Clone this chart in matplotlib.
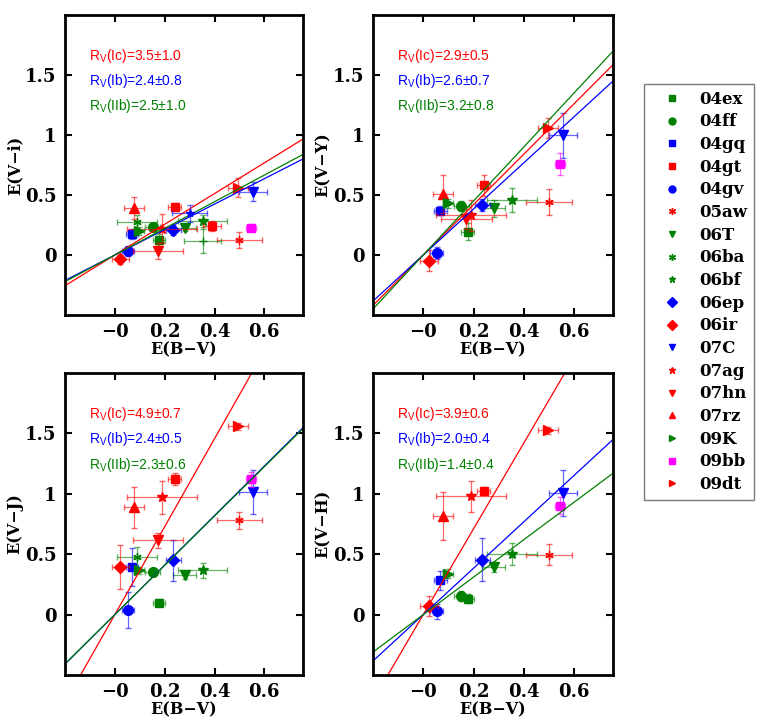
import numpy as np
import matplotlib
matplotlib.use("Agg")
import matplotlib.pyplot as plt
from matplotlib.lines import Line2D
from matplotlib.ticker import FixedLocator, FixedFormatter

# supernova names, plot colours and symbols
sn_names = ['04ex', '04ff', '04gq', '04gt', '04gv', '05aw', '06T', '06ba', '06bf',
            '06ep', '06ir', '07C', '07ag', '07hn', '07rz', '09K', '09bb', '09dt']
sn_colors = ['green', 'green', 'blue', 'red', 'blue', 'red', 'green', 'green', 'green',
             'blue', 'red', 'blue', 'red', 'red', 'red', 'green', 'magenta', 'red']
sn_markers = ['s', 'o', 's', 's', 'o', (6, 2, 0), 'v', (6, 2, 0), '*',
              'D', 'D', 'v', '*', 'v', '^', '>', 's', '>']

# E(B-V) and errors
ebv = [0.177, 0.152, 0.068, 0.240, 0.053, 0.500, 0.280, 0.088, 0.352,
       0.235, 0.022, 0.555, 0.190, 0.172, 0.078, 0.098, 0.545, 0.495]
ebv_err = [0.025, 0.03, 0.025, 0.025, 0.025, 0.09, 0.045, 0.08, 0.10,
           0.03, 0.035, 0.055, 0.14, 0.10, 0.04, 0.02, 0.02, 0.04]

nan = np.nan
# E(V-i)
evi = [0.125, 0.235, 0.175, 0.400, 0.035, 0.125, 0.228, 0.277, 0.285,
       0.210, -0.036, 0.526, 0.220, 0.033, 0.390, 0.200, 0.228, 0.562]
evi_err = [0.05, 0.03, 0.04, 0.03, 0.04, 0.07, 0.03, 0.06, 0.05,
           0.04, 0.04, 0.08, 0.12, 0.07, 0.09, 0.03, 0.03, 0.08]
# E(V-Y)
evy = [0.194, 0.410, 0.370, 0.580, 0.014, 0.443, 0.388, nan, 0.457,
       0.415, -0.047, 0.997, 0.330, 0.300, 0.507, 0.430, 0.760, 1.058]
evy_err = [0.07, 0.04, 0.04, 0.09, 0.05, 0.11, 0.07, nan, 0.10,
           0.05, 0.09, 0.19, 0.13, 0.08, 0.16, 0.04, 0.09, 0.08]
# E(V-J)
evj = [0.100, 0.353, 0.395, 1.120, 0.036, 0.780, 0.326, 0.477, 0.367,
       0.450, 0.395, 1.016, 0.970, 0.615, 0.890, 0.367, 1.120, 1.560]
evj_err = [0.03, 0.03, 0.16, 0.05, 0.15, 0.07, 0.03, 0.08, 0.06,
           0.17, 0.18, 0.18, 0.14, 0.06, 0.17, 0.03, 0.06, 0.03]
# E(V-H)
evh = [0.133, 0.154, 0.284, 1.025, 0.027, 0.497, 0.395, nan, 0.500,
       0.455, 0.071, 1.010, 0.980, nan, 0.817, 0.340, 0.900, 1.527]
evh_err = [0.04, 0.04, 0.08, 0.03, 0.06, 0.09, 0.04, nan, 0.09,
           0.18, 0.08, 0.19, 0.13, nan, 0.20, 0.04, 0.07, 0.03]

# extra unlabelled points in the E(V-i) panel
extra_x = [0.300, 0.390, 0.352]
extra_xerr = [0.07, 0.035, 0.075]
extra_y = [0.346, 0.244, 0.116]
extra_yerr = [0.07, 0.04, 0.10]
extra_colors = ['blue', 'red', 'green']
extra_markers = ['*', 's', '+']

# fitted slopes (Ic, Ib, IIb) and R_V labels
fit_groups = ['Ic', 'Ib', 'IIb']
fit_colors = ['red', 'blue', 'green']
slopes = {'i': [1.28, 1.06, 1.11], 'Y': [2.10, 1.92, 2.25],
          'J': [3.64, 2.05, 2.04], 'H': [3.55, 1.92, 1.55]}
rv_text = {'i': ['3.5±1.0', '2.4±0.8', '2.5±1.0'], 'Y': ['2.9±0.5', '2.6±0.7', '3.2±0.8'],
           'J': ['4.9±0.7', '2.4±0.5', '2.3±0.6'], 'H': ['3.9±0.6', '2.0±0.4', '1.4±0.4']}

xticks = [0.0, 0.2, 0.4, 0.6]
xtick_labels = ['\u22120', '0.2', '0.4', '0.6']
yticks = [0.0, 0.5, 1.0, 1.5]
ytick_labels = ['0', '0.5', '1', '1.5']

plt.rcParams['mathtext.fontset'] = 'custom'
plt.rcParams['mathtext.rm'] = 'Liberation Sans'
tick_font = {'family': 'DejaVu Serif', 'weight': 'bold', 'size': 13}
label_font = {'family': 'DejaVu Serif', 'weight': 'bold', 'size': 11.5}
legend_font = {'family': 'DejaVu Serif', 'weight': 'bold', 'size': 12}


def draw_panel(ax, band, yvals, yerrs):
    for i in range(len(sn_names)):
        if np.isnan(yvals[i]):
            continue
        ax.errorbar(ebv[i], yvals[i], xerr=ebv_err[i], yerr=yerrs[i], fmt='none',
                    ecolor=sn_colors[i], elinewidth=0.9, capsize=2, alpha=0.6)
        ms = 7 if sn_markers[i] in ('o', 'v', '^', '>', '*') else 6
        ax.plot(ebv[i], yvals[i], linestyle='none', marker=sn_markers[i],
                color=sn_colors[i], markersize=ms, markeredgewidth=1)
    for k, c in zip(slopes[band], fit_colors):
        ax.axline((0, 0), slope=k, color=c, lw=0.9)
    for j, (g, c) in enumerate(zip(fit_groups, fit_colors)):
        ax.text(-0.105, 1.66 - 0.21 * j, r'R$_\mathrm{V}$(' + g + ')=' + rv_text[band][j],
                color=c, fontsize=10, family='Liberation Sans', ha='left', va='center')
    ax.set_xlim(-0.2, 0.755)
    ax.set_ylim(-0.5, 2.0)
    ax.xaxis.set_major_locator(FixedLocator(xticks))
    ax.xaxis.set_major_formatter(FixedFormatter(xtick_labels))
    ax.yaxis.set_major_locator(FixedLocator(yticks))
    ax.yaxis.set_major_formatter(FixedFormatter(ytick_labels))
    ax.tick_params(direction='in', top=True, right=True, length=5, width=1.5, pad=6)
    for lab in ax.get_xticklabels() + ax.get_yticklabels():
        lab.set_fontproperties(tick_font)
    for s in ax.spines.values():
        s.set_linewidth(2)
    ax.set_xlabel('E(B\u2212V)', fontdict=label_font, labelpad=0)
    ax.set_ylabel('E(V\u2212' + band + ')', fontdict=label_font, labelpad=1)


def main():
    fig = plt.figure(figsize=(7.63, 7.23), dpi=100)
    W, H = 763.0, 723.0
    boxes = [(65, 15, 303, 315), (373, 15, 613, 315), (65, 373, 303, 675), (373, 373, 613, 675)]
    panels = [('i', evi, evi_err), ('Y', evy, evy_err), ('J', evj, evj_err), ('H', evh, evh_err)]
    for (x0, y0, x1, y1), (band, yv, ye) in zip(boxes, panels):
        ax = fig.add_axes([x0 / W, 1 - y1 / H, (x1 - x0) / W, (y1 - y0) / H])
        draw_panel(ax, band, yv, ye)
        if band == 'i':
            for i in range(len(extra_x)):
                ax.errorbar(extra_x[i], extra_y[i], xerr=extra_xerr[i], yerr=extra_yerr[i],
                            fmt='none', ecolor=extra_colors[i], elinewidth=0.9, capsize=2, alpha=0.6)
                ax.plot(extra_x[i], extra_y[i], linestyle='none', marker=extra_markers[i],
                        color=extra_colors[i], markersize=6)

    handles = [Line2D([], [], linestyle='none', marker=m, color=c, markersize=5)
               for m, c in zip(sn_markers, sn_colors)]
    leg = fig.legend(handles, sn_names, loc='upper left', bbox_to_anchor=(644 / W, 1 - 84 / H),
                     prop=legend_font, frameon=True, fancybox=False, edgecolor='0.35',
                     labelspacing=0.34, handletextpad=0.3, borderpad=0.4, handlelength=2.6,
                     borderaxespad=0)
    leg.get_frame().set_linewidth(1)

    fig.savefig('out.png', dpi=100)


if __name__ == "__main__":
    main()
